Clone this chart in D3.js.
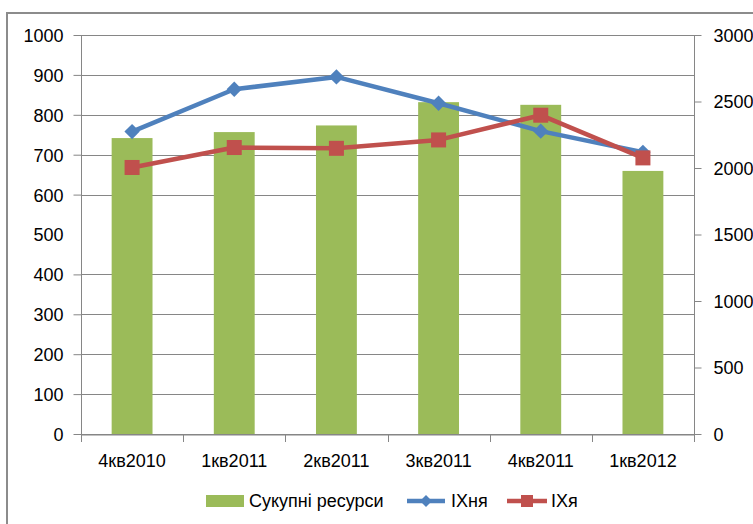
<!DOCTYPE html>
<html><head><meta charset="utf-8">
<script src="https://cdn.jsdelivr.net/npm/d3@7"></script>
<style>
body{margin:0;background:#fff;}
svg text{font-family:"Liberation Sans",Arial,sans-serif;font-size:18px;fill:#000;}
</style></head>
<body>
<svg id="c" width="753" height="524"></svg>
<script>
const categories = ["4кв2010","1кв2011","2кв2011","3кв2011","4кв2011","1кв2012"];
const resources = [2225, 2270, 2320, 2495, 2475, 1978];   // right axis (Сукупні ресурси)
const ikhnya = [758, 864, 895, 829, 759, 706];             // left axis (ІХня)
const ikhya  = [668, 718, 716, 737, 799, 692];             // left axis (ІХя)
const leftTicks = [0,100,200,300,400,500,600,700,800,900,1000];
const rightTicks = [0,500,1000,1500,2000,2500,3000];
const seriesNames = ["Сукупні ресурси","ІХня","ІХя"];

const colors = {bar:"#9BBB59", blue:"#4F81BD", red:"#C0504D", grid:"#868686"};
const svg = d3.select("#c");
const L = 81, R = 694, T = 35, B = 434;

// outer frame
svg.append("path").attr("d","M7,530 L7,13 L760,13").attr("fill","none")
  .attr("stroke","#8c8c8c").attr("stroke-width",2);

const x = d3.scaleBand().domain(categories).range([L,R]).paddingInner(0.6).paddingOuter(0.3);
const xb = d3.scaleBand().domain(categories).range([L,R]);
const yL = d3.scaleLinear().domain([0,1000]).range([B,T]);
const yR = d3.scaleLinear().domain([0,3000]).range([B,T]);

// gridlines (500 line is not visible in the reference)
svg.append("g").selectAll("line").data(leftTicks.filter(d=>d!==500)).join("line")
  .attr("x1",L).attr("x2",R).attr("y1",d=>Math.round(yL(d))+0.5).attr("y2",d=>Math.round(yL(d))+0.5)
  .attr("stroke",colors.grid).attr("stroke-width",1);

// left axis
const gL = svg.append("g").attr("transform",`translate(${L+0.5},0)`)
  .call(d3.axisLeft(yL).tickValues(leftTicks).tickSize(8).tickPadding(10).tickFormat(d3.format("d")));
gL.select(".domain").attr("stroke",colors.grid).attr("d",`M0,${T}V${B+8}`);
gL.selectAll(".tick line").attr("stroke",colors.grid).attr("opacity",d=>d===500?0:1);
gL.selectAll(".tick text").style("font-size","18px").attr("fill","#000").attr("dy","0.36em");

// right axis
const gR = svg.append("g").attr("transform",`translate(${R+0.5},0)`)
  .call(d3.axisRight(yR).tickValues(rightTicks).tickSize(7).tickPadding(12).tickFormat(d3.format("d")));
gR.select(".domain").attr("stroke",colors.grid).attr("d",`M0,${T}V${B+8}`);
gR.selectAll(".tick line").attr("stroke",colors.grid);
gR.selectAll(".tick text").style("font-size","18px").attr("fill","#000").attr("dy","0.36em");

// bars
svg.append("g").selectAll("rect").data(resources).join("rect")
  .attr("x",(d,i)=>x(categories[i])).attr("width",x.bandwidth())
  .attr("y",d=>yR(d)).attr("height",d=>B-yR(d)).attr("fill",colors.bar);

// x axis
const gX = svg.append("g").attr("transform",`translate(0,${B+0.5})`)
  .call(d3.axisBottom(xb).tickSize(0).tickPadding(20));
gX.select(".domain").attr("stroke",colors.grid);
gX.selectAll(".tick text").style("font-size","18px").attr("fill","#000").attr("dy","0.71em");
svg.append("g").selectAll("line").data(d3.range(categories.length+1)).join("line")
  .attr("x1",i=>Math.round(L+i*xb.step())+0.5).attr("x2",i=>Math.round(L+i*xb.step())+0.5)
  .attr("y1",B).attr("y2",B+8).attr("stroke",colors.grid);

const cx = i => xb(categories[i]) + xb.bandwidth()/2;
const line = d3.line().x((d,i)=>cx(i)).y(d=>yL(d));

// ІХня
svg.append("path").datum(ikhnya).attr("d",line).attr("fill","none")
  .attr("stroke",colors.blue).attr("stroke-width",4.5).attr("stroke-linejoin","round");
svg.append("g").selectAll("path").data(ikhnya).join("path")
  .attr("d",d3.symbol(d3.symbolDiamond2,150)).attr("fill",colors.blue)
  .attr("transform",(d,i)=>`translate(${cx(i)},${yL(d)})`);

// ІХя
svg.append("path").datum(ikhya).attr("d",line).attr("fill","none")
  .attr("stroke",colors.red).attr("stroke-width",4.5).attr("stroke-linejoin","round");
svg.append("g").selectAll("rect").data(ikhya).join("rect")
  .attr("x",(d,i)=>cx(i)-7.5).attr("y",d=>yL(d)-7.5).attr("width",15).attr("height",15)
  .attr("fill",colors.red);

// legend
const lg = svg.append("g");
const ly = 501;
lg.append("rect").attr("x",206).attr("y",ly-6).attr("width",38).attr("height",12).attr("fill",colors.bar);
lg.append("text").attr("x",249).attr("y",ly).attr("dy","0.36em").text(seriesNames[0]);
lg.append("line").attr("x1",407).attr("x2",445).attr("y1",ly).attr("y2",ly).attr("stroke",colors.blue).attr("stroke-width",4.5);
lg.append("path").attr("d",d3.symbol(d3.symbolDiamond2,90)).attr("fill",colors.blue).attr("transform",`translate(426,${ly})`);
lg.append("text").attr("x",451).attr("y",ly).attr("dy","0.36em").text(seriesNames[1]);
lg.append("line").attr("x1",507).attr("x2",547).attr("y1",ly).attr("y2",ly).attr("stroke",colors.red).attr("stroke-width",4.5);
lg.append("rect").attr("x",521).attr("y",ly-6).attr("width",12).attr("height",12).attr("fill",colors.red);
lg.append("text").attr("x",551).attr("y",ly).attr("dy","0.36em").text(seriesNames[2]);
</script>
</body></html>
